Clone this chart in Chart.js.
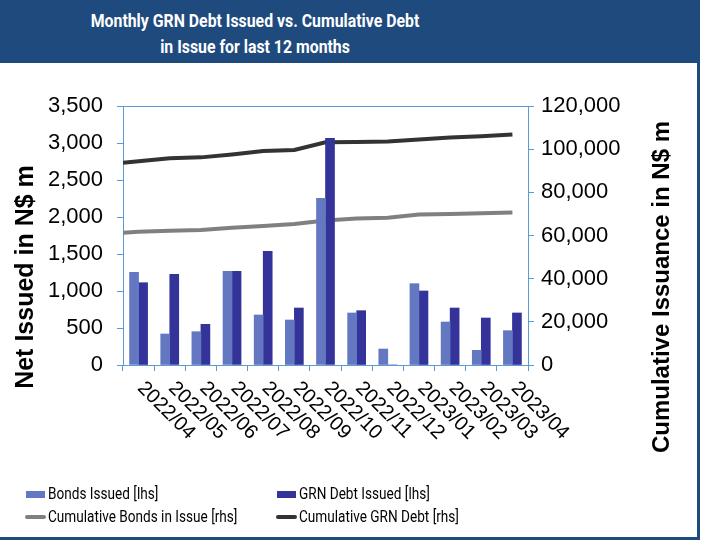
<!DOCTYPE html>
<html>
<head>
<meta charset="utf-8">
<script src="https://cdn.jsdelivr.net/npm/chart.js@4/dist/chart.umd.min.js"></script>
<style>
  body { margin: 0; background: #fff; }
  #wrap { position: relative; width: 709px; height: 540px; overflow: hidden; }
  #head { position: absolute; left: 0; top: 0; width: 700px; height: 63px; background: #1f4a7e; }
  #title { position: absolute; left: 0; top: 8px; width: 510px; text-align: center; color: #fff;
           font: bold 18px "Roboto", sans-serif; line-height: 26px;
           transform: scaleX(0.88); transform-origin: 255px 0; }
  #frameR { position: absolute; left: 697px; top: 63px; width: 3px; height: 477px; background: #1f4a7e; }
  #frameB { position: absolute; left: 0; top: 537px; width: 700px; height: 3px; background: #1f4a7e; }
  canvas { position: absolute; left: 0; top: 0; }
  .leg { position: absolute; font: 16px "Roboto", sans-serif; color: #000; white-space: nowrap; line-height: 20px;
         transform: scaleX(0.85); transform-origin: 0 0; }
  .sw { position: absolute; }
</style>
</head>
<body>
<div id="wrap">
  <canvas id="debtChart" width="709" height="540"></canvas>
  <div id="head"><div id="title">Monthly GRN Debt Issued vs. Cumulative Debt<br>in Issue for last 12 months</div></div>
  <div id="frameR"></div>
  <div id="frameB"></div>
  <div id="legend"></div>
</div>
<script>
var months = ["2022/04", "2022/05", "2022/06", "2022/07", "2022/08", "2022/09", "2022/10",
              "2022/11", "2022/12", "2023/01", "2023/02", "2023/03", "2023/04"];
var bondsIssued = [1253, 419, 450, 1266, 676, 608, 2252, 703, 216, 1099, 581, 198, 464];
var grnDebtIssued = [1112, 1225, 550, 1266, 1536, 770, 3063, 734, 0, 1000, 770, 635, 703];
var cumBonds = [61700, 62200, 62500, 63600, 64400, 65300, 66900, 67900, 68200, 69700, 70000, 70300, 70600];
var cumGrn = [94400, 95800, 96200, 97500, 99100, 99600, 103200, 103300, 103500, 104500, 105400, 106000, 106800];
// the lines run in from the left axis edge
var cumBondsStart = 61300;
var cumGrnStart = 93700;

var lightBar = "#6478c1";
var darkBar = "#333399";
var greyLine = "#808080";
var darkLine = "#333333";
var axisBlue = "#5b9bd5";
var barShift = 0.145; // half of a bar pair, in category units

function linePoints(start, vals){
  var pts = [{x: -0.5, y: start}];
  vals.forEach(function(v, i){ pts.push({x: i, y: v}); });
  return pts;
}
function barPoints(vals, shift){
  return vals.map(function(v, i){ return {x: i + shift, y: v}; });
}

var extras = {
  id: "extras",
  beforeDatasetsDraw: function(chart){
    var a = chart.chartArea, ctx = chart.ctx;
    ctx.save();
    ctx.strokeStyle = axisBlue;
    ctx.lineWidth = 1;
    ctx.strokeRect(a.left + 0.5, a.top + 0.5, a.right - a.left, a.bottom - a.top);
    ctx.restore();
  },
  afterDraw: function(chart){
    var ctx = chart.ctx, xs = chart.scales.x;
    ctx.save();
    ctx.fillStyle = "#000";
    ctx.font = "20px 'Liberation Sans', sans-serif";
    ctx.textAlign = "left";
    ctx.textBaseline = "middle";
    months.forEach(function(m, i){
      ctx.save();
      ctx.translate(xs.getPixelForValue(i) + 2, 385);
      ctx.rotate(Math.PI / 4);
      ctx.fillText(m, 0, 0);
      ctx.restore();
    });
    ctx.textAlign = "center";
    ctx.font = "bold 25px 'Liberation Sans', sans-serif";
    ctx.save();
    ctx.translate(26, 277);
    ctx.rotate(-Math.PI / 2);
    ctx.fillText("Net Issued in N$ m", 0, 0);
    ctx.restore();
    ctx.font = "bold 24px 'Liberation Sans', sans-serif";
    ctx.save();
    ctx.translate(662, 287);
    ctx.rotate(-Math.PI / 2);
    ctx.fillText("Cumulative Issuance in N$ m", 0, 0);
    ctx.restore();
    ctx.restore();
  }
};

var chart = new Chart("debtChart", {
  type: "line",
  data: {
    labels: months,
    datasets: [{
      type: "bar",
      label: "Bonds Issued [lhs]",
      data: barPoints(bondsIssued, -barShift),
      backgroundColor: lightBar,
      xAxisID: "xl",
      yAxisID: "y",
      grouped: false,
      categoryPercentage: 1,
      barPercentage: 1,
      maxBarThickness: 9,
      order: 0
    }, {
      type: "bar",
      label: "GRN Debt Issued [lhs]",
      data: barPoints(grnDebtIssued, barShift),
      backgroundColor: darkBar,
      xAxisID: "xl",
      yAxisID: "y",
      grouped: false,
      categoryPercentage: 1,
      barPercentage: 1,
      maxBarThickness: 9,
      order: 0
    }, {
      type: "line",
      label: "Cumulative Bonds in Issue [rhs]",
      data: linePoints(cumBondsStart, cumBonds),
      borderColor: greyLine,
      backgroundColor: greyLine,
      borderWidth: 4,
      pointRadius: 0,
      xAxisID: "xl",
      yAxisID: "y2",
      order: 1
    }, {
      type: "line",
      label: "Cumulative GRN Debt [rhs]",
      data: linePoints(cumGrnStart, cumGrn),
      borderColor: darkLine,
      backgroundColor: darkLine,
      borderWidth: 4,
      pointRadius: 0,
      xAxisID: "xl",
      yAxisID: "y2",
      order: 1
    }]
  },
  options: {
    responsive: false,
    animation: false,
    devicePixelRatio: 1,
    layout: { padding: { top: 106 } },
    plugins: { legend: { display: false }, title: { display: false }, tooltip: { enabled: false } },
    scales: {
      x: {
        type: "category",
        offset: true,
        grid: { offset: true, drawOnChartArea: false, tickLength: 6, color: axisBlue },
        border: { color: axisBlue },
        ticks: { display: false },
        afterFit: function(s){ s.height = 175; }
      },
      xl: {
        type: "linear",
        display: false,
        offset: false,
        min: -0.5,
        max: 12.5
      },
      y: {
        position: "left",
        min: 0, max: 3500,
        ticks: {
          stepSize: 500, color: "#000", padding: 14,
          font: { family: "'Liberation Sans', sans-serif", size: 22 },
          callback: function(v){ return v.toLocaleString("en-US"); }
        },
        grid: { drawOnChartArea: false, tickLength: 6, color: axisBlue },
        border: { color: axisBlue },
        afterFit: function(s){ s.width = 123; }
      },
      y2: {
        position: "right",
        min: 0, max: 120000,
        ticks: {
          stepSize: 20000, color: "#000", padding: 7,
          font: { family: "'Liberation Sans', sans-serif", size: 22 },
          callback: function(v){ return v.toLocaleString("en-US"); }
        },
        grid: { drawOnChartArea: false, tickLength: 6, color: axisBlue },
        border: { color: axisBlue },
        afterFit: function(s){ s.width = 181; }
      }
    }
  },
  plugins: [extras]
});

// legend laid out in two columns like the original
var legendPos = [[26, 494], [277, 494], [26, 517], [277, 517]];
var legendHtml = "";
chart.data.datasets.forEach(function(ds, k){
  var p = legendPos[k];
  var isLine = ds.type === "line";
  var col = isLine ? ds.borderColor : ds.backgroundColor;
  if (isLine) {
    legendHtml += '<div class="sw" style="left:' + (p[0] - 1) + 'px;top:' + (p[1] - 2) + 'px;width:21px;height:4px;background:' + col + ';border-radius:2px"></div>';
  } else {
    legendHtml += '<div class="sw" style="left:' + p[0] + 'px;top:' + (p[1] - 3) + 'px;width:19px;height:7px;background:' + col + '"></div>';
  }
  legendHtml += '<div class="leg" style="left:' + (p[0] + 22) + 'px;top:' + (p[1] - 10) + 'px">' + ds.label + '</div>';
});
document.getElementById("legend").innerHTML = legendHtml;
</script>
</body>
</html>
